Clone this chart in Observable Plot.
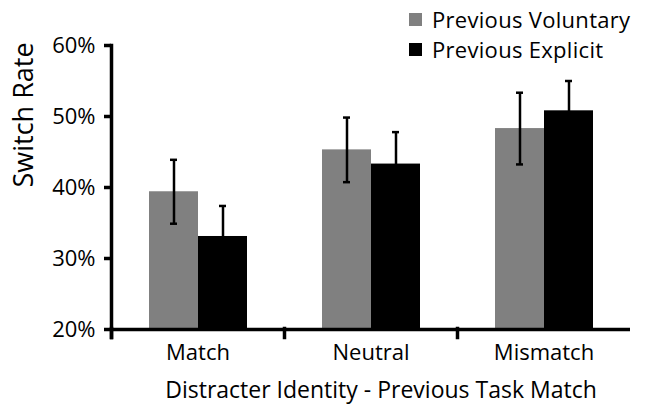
<!DOCTYPE html>
<html>
<head>
<meta charset="utf-8">
<script src="https://cdn.jsdelivr.net/npm/d3@7"></script>
<script src="https://cdn.jsdelivr.net/npm/@observablehq/plot@0.6"></script>
<style>
  body { margin: 0; background: #fff; font-family: "Open Sans", sans-serif; }
  #wrap { position: relative; width: 647px; height: 408px; }
  #legend { position: absolute; left: 409px; top: 4px; font-size: 22px; line-height: 30px; color: #000; }
  #legend .row { display: flex; align-items: center; white-space: nowrap; }
  #legend .sw { width: 13px; height: 13px; margin-right: 10px; flex: none; }
  #legend .lab { letter-spacing: 0.3px; }
</style>
</head>
<body>
<div id="wrap"><div id="legend"></div></div>
<script>
const categories = ["Match", "Neutral", "Mismatch"];
const series = ["Previous Voluntary", "Previous Explicit"];
const seriesColors = ["#808080", "#000000"];
const voluntary = [39.4, 45.3, 48.3];
const voluntaryErr = [4.5, 4.55, 5.05];
const explicit = [33.1, 43.3, 50.8];
const explicitErr = [4.3, 4.5, 4.2];
const yTicks = [20, 30, 40, 50, 60];
const yTitle = "Switch Rate";
const xTitle = "Distracter Identity - Previous Task Match";

const rows = [];
categories.forEach((c, i) => {
  rows.push({category: c, series: series[0], value: voluntary[i], err: voluntaryErr[i]});
  rows.push({category: c, series: series[1], value: explicit[i], err: explicitErr[i]});
});

const font = "Open Sans";

const chart = Plot.plot({
  width: 647,
  height: 408,
  marginLeft: 110,
  marginRight: 16,
  marginTop: 45,
  marginBottom: 79,
  style: {fontFamily: font, color: "#000", background: "#fff"},
  fx: {domain: categories, padding: 0},
  x: {domain: series, paddingInner: 0, paddingOuter: 0.735, axis: null},
  y: {domain: [20, 60]},
  color: {domain: series, range: seriesColors},
  marks: [
    Plot.barY(rows, {fx: "category", x: "series", y1: 20, y2: "value", fill: "series"}),
    Plot.ruleX(rows, {fx: "category", x: "series", y1: d => d.value - d.err, y2: d => d.value + d.err, stroke: "#000", strokeWidth: 2.5}),
    Plot.tickY(rows, {fx: "category", x: "series", y: d => d.value - d.err, stroke: "#000", strokeWidth: 2.5, insetLeft: 21, insetRight: 21}),
    Plot.tickY(rows, {fx: "category", x: "series", y: d => d.value + d.err, stroke: "#000", strokeWidth: 2.5, insetLeft: 21, insetRight: 21}),
    Plot.ruleY([20], {stroke: "#000", strokeWidth: 3.5}),
    Plot.frame({anchor: "left", insetTop: 283, insetBottom: -8, stroke: "#000", strokeWidth: 3.5}),
    Plot.frame({anchor: "left", insetBottom: -8, stroke: "#000", strokeWidth: 3.5, facetAnchor: "left"}),
    Plot.axisY({ticks: yTicks, tickFormat: d => d + "%", tickSize: 7, tickPadding: 9, strokeWidth: 3.5, fontSize: 22, label: null}),
    Plot.axisFx({anchor: "bottom", tickSize: 0, tickPadding: 15, fontSize: 22, label: null}),
    Plot.text([yTitle], {text: d => d, frameAnchor: "left", rotate: -90, dx: -87, fontSize: 27, facetAnchor: "left"}),
    Plot.text([xTitle], {text: d => d, fx: [categories[1]], frameAnchor: "bottom", lineAnchor: "middle", dy: 61, dx: 10, fontSize: 23})
  ]
});

document.getElementById("wrap").prepend(chart);

const legend = document.getElementById("legend");
series.forEach((s, i) => {
  const row = document.createElement("div");
  row.className = "row";
  const sw = document.createElement("span");
  sw.className = "sw";
  sw.style.background = seriesColors[i];
  const label = document.createElement("span");
  label.className = "lab";
  label.textContent = s;
  row.append(sw, label);
  legend.append(row);
});
</script>
</body>
</html>
